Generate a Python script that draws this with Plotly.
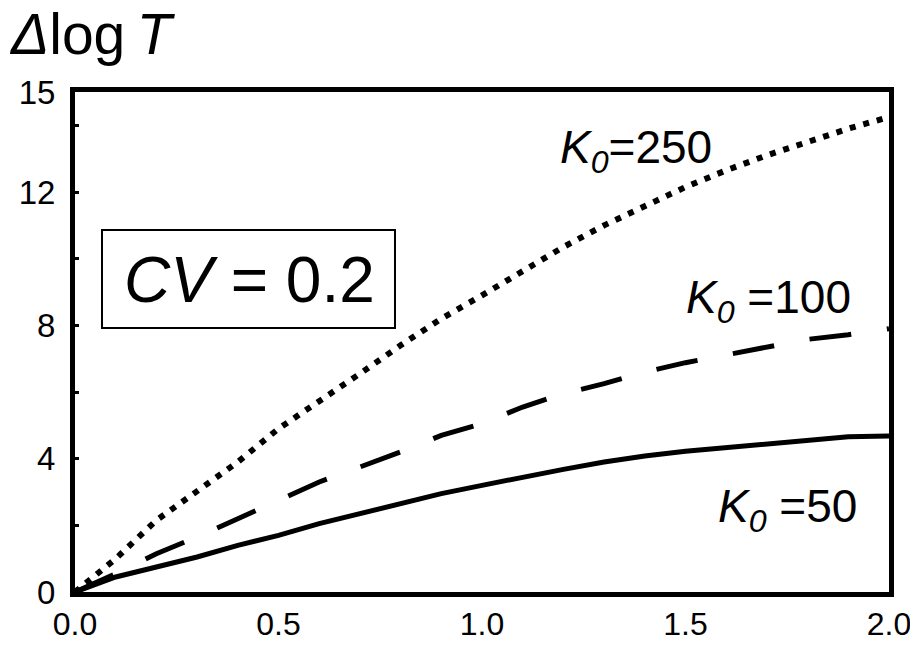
import plotly.graph_objects as go

# Shared abscissa for all three series
x_vals = [0.0, 0.1, 0.2, 0.3, 0.4, 0.5, 0.6, 0.7, 0.8, 0.9, 1.0,
          1.1, 1.2, 1.3, 1.4, 1.5, 1.6, 1.7, 1.8, 1.9, 2.0]

# Delta log T for three initial population sizes
k250 = [0.0, 1.0, 2.15, 3.0, 3.9, 4.9, 5.7, 6.55, 7.4, 8.2, 8.9,
        9.65, 10.35, 11.0, 11.6, 12.15, 12.65, 13.1, 13.5, 13.9, 14.25]
k100 = [0.0, 0.55, 1.15, 1.65, 2.2, 2.75, 3.3, 3.75, 4.2, 4.7, 5.05,
        5.55, 5.95, 6.25, 6.6, 6.88, 7.12, 7.35, 7.58, 7.72, 7.9]
k50 = [0.0, 0.45, 0.75, 1.05, 1.4, 1.7, 2.05, 2.35, 2.65, 2.95, 3.2,
       3.45, 3.68, 3.9, 4.08, 4.22, 4.33, 4.46, 4.57, 4.66, 4.68]

x_ticks = [0.0, 0.5, 1.0, 1.5, 2.0]
x_tick_text = ["0.0", "0.5", "1.0", "1.5", "2.0"]
y_ticks = [0, 4, 8, 12, 15]
y_tick_text = ["0", "4", "8", "12", "15"]

FONT = "Liberation Sans, Arial, sans-serif"

fig = go.Figure()
fig.add_trace(go.Scatter(x=x_vals, y=k250, mode="lines",
                         line=dict(color="black", width=6, dash="6px,8px")))
fig.add_trace(go.Scatter(x=x_vals, y=k100, mode="lines",
                         line=dict(color="black", width=5, dash="42px,36px")))
fig.add_trace(go.Scatter(x=x_vals, y=k50, mode="lines",
                         line=dict(color="black", width=5)))

axis_common = dict(
    showgrid=False, zeroline=False, showline=True, linecolor="black",
    linewidth=5, mirror=True, automargin=False,
)

fig.update_xaxes(range=[0, 2], tickvals=x_ticks, ticktext=x_tick_text,
                 ticks="", ticklabelstandoff=0, ticklabeloverflow="allow",
                 tickfont=dict(family=FONT, size=32, color="black"),
                 **axis_common)
fig.update_yaxes(range=[0, 15], tickvals=y_ticks, ticktext=y_tick_text,
                 ticks="", ticklabelstandoff=8,
                 tickfont=dict(family=FONT, size=33, color="black"),
                 minor=dict(ticks="inside", ticklen=4, tickwidth=3,
                            tickcolor="black", dtick=2, tick0=0),
                 **axis_common)

W, H = 910, 646
ml, mr, mt, mb = 75, 21, 92, 54
pw, ph = W - ml - mr, H - mt - mb


def px_x(p):
    return (p - ml) / pw


def px_y(p):
    return (H - mb - p) / ph


annotations = [
    dict(text="<i>Δ</i>log\u2009<i>T</i>", x=px_x(7), y=px_y(0), xref="paper", yref="paper",
         xanchor="left", yanchor="top", showarrow=False,
         font=dict(family=FONT, size=57, color="black")),
    dict(text="<i>CV</i> = 0.2", x=px_x(249), y=px_y(280), xref="paper", yref="paper",
         xanchor="center", yanchor="middle", showarrow=False,
         font=dict(family=FONT, size=64, color="black")),
    dict(text="<i>K<sub>0</sub></i>=250", x=px_x(636), y=px_y(150), xref="paper", yref="paper",
         xanchor="center", yanchor="middle", showarrow=False,
         font=dict(family=FONT, size=46, color="black")),
    dict(text="<i>K<sub>0</sub></i> =100", x=px_x(768), y=px_y(300), xref="paper", yref="paper",
         xanchor="center", yanchor="middle", showarrow=False,
         font=dict(family=FONT, size=46, color="black")),
    dict(text="<i>K<sub>0</sub></i> =50", x=px_x(787), y=px_y(509), xref="paper", yref="paper",
         xanchor="center", yanchor="middle", showarrow=False,
         font=dict(family=FONT, size=46, color="black")),
]

shapes = [
    dict(type="rect", xref="paper", yref="paper",
         x0=px_x(102), x1=px_x(395), y0=px_y(328), y1=px_y(230),
         line=dict(color="black", width=2), fillcolor="rgba(0,0,0,0)"),
]

fig.update_layout(
    width=W, height=H,
    margin=dict(l=ml, r=mr, t=mt, b=mb),
    paper_bgcolor="white", plot_bgcolor="white",
    showlegend=False,
    annotations=annotations, shapes=shapes,
    font=dict(family=FONT, color="black"),
)

fig.write_html("out.html")
